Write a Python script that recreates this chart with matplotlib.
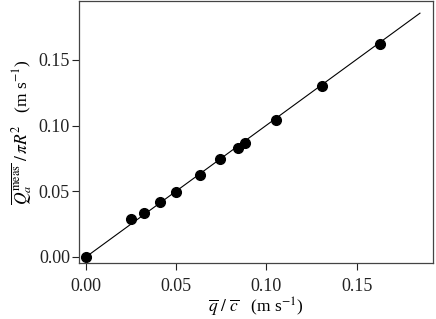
import matplotlib
matplotlib.use("Agg")
import matplotlib.pyplot as plt

plt.rcParams['font.family'] = ['Liberation Serif', 'DejaVu Serif']
plt.rcParams['mathtext.fontset'] = 'stix'

x_pts = [0.0, 0.0249, 0.0322, 0.0412, 0.0497, 0.0634, 0.0743, 0.0843, 0.0883, 0.1051, 0.1308, 0.1630]
y_pts = [0.0, 0.0287, 0.0332, 0.0416, 0.0497, 0.0626, 0.0746, 0.0827, 0.0865, 0.1042, 0.1299, 0.1621]
line_x = [0.0, 0.1851]
line_y = [0.0, 0.1855]
xticks = [0.00, 0.05, 0.10, 0.15]
yticks = [0.00, 0.05, 0.10, 0.15]

fig = plt.figure(figsize=(4.36, 3.19), dpi=100)
ax = fig.add_axes([0.181, 0.1755, 0.812, 0.8215])
ax.plot(line_x, line_y, color='black', lw=0.8)
ax.plot(x_pts, y_pts, 'o', color='black', ms=7)
ax.set_xlim(-0.0039, 0.1923)
ax.set_ylim(-0.0046, 0.1948)
ax.set_xticks(xticks)
ax.set_yticks(yticks)
ax.set_xticklabels([f"{t:.2f}" for t in xticks])
ax.set_yticklabels([f"{t:.2f}" for t in yticks])
ax.tick_params(direction='out', length=5, width=0.8, labelsize=13, colors='#222222')
ax.tick_params(axis='x', pad=6)
ax.tick_params(axis='y', pad=1.5)
for s in ax.spines.values():
    s.set_color('#444444')
    s.set_linewidth(0.9)
ax.set_xlabel(r'$\overline{q}\ /\ \overline{c}$   (m s$^{\mathrm{-1}}$)', fontsize=12.5, labelpad=0)
ax.set_ylabel(r'$\overline{Q_a^{\mathrm{meas}}}\ /\,\pi R^2$   (m s$^{\mathrm{-1}}$)', fontsize=12.5, labelpad=3)
fig.savefig('out.png', dpi=100)
